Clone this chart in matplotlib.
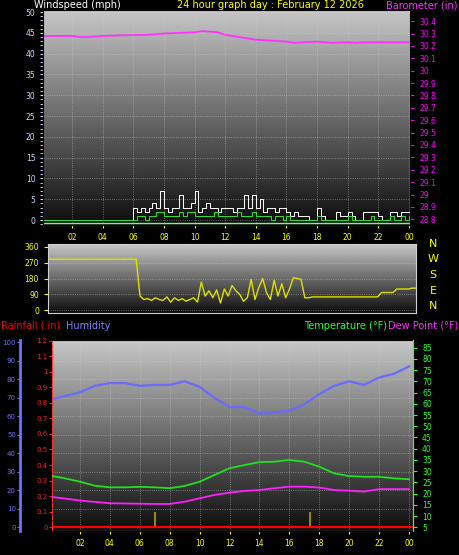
import matplotlib
matplotlib.use("Agg")
import matplotlib.pyplot as plt
import numpy as np
from matplotlib.ticker import MultipleLocator, AutoMinorLocator

W, H = 459, 555

# ---- data ----
hours = np.arange(25)
baro_t = [0, 2, 2.7, 4, 5, 7, 8, 10, 10.5, 11.5, 12, 13.5, 14, 16, 16.5, 18, 19, 20, 20.5, 21, 24]
baro = [30.28, 30.28, 30.27, 30.28, 30.285, 30.29, 30.30, 30.31, 30.32, 30.31, 30.29,
        30.26, 30.25, 30.235, 30.225, 30.235, 30.225, 30.23, 30.225, 30.23, 30.23]

gust = [0]*24 + [3, 2, 3, 2, 3, 4, 3, 7, 3, 2, 3, 3, 6, 3, 3, 4, 7, 2, 3, 4, 3, 3, 2, 3,
        3, 3, 2, 3, 3, 6, 3, 6, 3, 5, 2, 3, 3, 2, 3, 3, 2, 1, 2, 1, 1, 1, 0, 0, 3, 1,
        0, 0, 0, 2, 1, 1, 2, 1, 0, 0, 2, 2, 2, 2, 1, 0, 0, 2, 2, 1, 2, 2, 2]
avg = [0]*24 + [0, 1, 1, 0, 1, 1, 2, 2, 1, 1, 1, 1, 2, 1, 2, 2, 1, 1, 1, 1, 1, 2, 1, 1,
       1, 1, 1, 2, 1, 1, 1, 2, 1, 1, 1, 1, 0, 1, 1, 0, 1, 0, 0, 0, 0, 0, 0, 0, 1, 0,
       0, 0, 0, 0, 0, 0, 1, 0, 0, 0, 0, 0, 1, 0, 0, 0, 0, 1, 0, 0, 1, 0, 1]
wind_t = np.linspace(0, 24, len(gust))

direction = [290]*24 + [80, 60, 65, 55, 70, 60, 55, 75, 45, 70, 55, 65, 50, 60, 70, 45,
             160, 80, 110, 70, 115, 40, 120, 80, 140, 110, 90, 50, 70, 175, 60, 130,
             180, 100, 60, 170, 80, 150, 70, 120, 185, 180, 175, 70, 70, 75, 75, 75,
             75, 75, 75, 75, 75, 75, 75, 75, 75, 75, 75, 75, 75, 75, 75, 100, 100,
             100, 100, 120, 120, 120, 120, 125, 125]
dir_t = np.linspace(0, 24, len(direction))

humidity = [69, 71, 73, 76.5, 78, 78, 76.5, 77, 77, 79, 76, 70, 65, 65, 61.5, 62, 63,
            66.5, 72, 76.5, 79, 77, 81, 83, 87]
temperature = [28, 26.8, 25.3, 23.5, 22.8, 22.8, 23, 22.8, 22.4, 23.4, 25.3, 28.3, 31.3,
               32.7, 34, 34.2, 35, 34.2, 32, 29, 27.8, 27.5, 27.5, 26.8, 26.4]
dewpoint = [18.6, 17.8, 16.9, 16.3, 15.7, 15.6, 15.5, 15.4, 15.4, 16.4, 17.9, 19.4, 20.4,
            21.2, 21.6, 22.4, 23.1, 23.1, 22.7, 21.6, 21.3, 20.9, 22, 22, 22]
rain_t = [7.0, 17.4]
rain = [0.1, 0.1]

xtick_pos = list(range(2, 25, 2))
xtick_lab = ['02', '04', '06', '08', '10', '12', '14', '16', '18', '20', '22', '00']

fig = plt.figure(figsize=(W/100, H/100), dpi=100, facecolor='black')
plt.rcParams['font.family'] = 'DejaVu Sans'
fs = 5.5
tfs = 7.0


def box(l, r, t, b):
    return [l/W, 1 - b/H, (r-l)/W, (b-t)/H]


def style(ax):
    ax.set_facecolor('black')
    grad = np.linspace(0.78, 0.05, 256).reshape(-1, 1)
    ax.imshow(grad, cmap='gray', vmin=0, vmax=1, aspect='auto', extent=[0, 1, 0, 1],
              transform=ax.transAxes, zorder=0)
    ax.grid(True, color='#d0d0d0', linestyle=':', linewidth=0.6, alpha=0.6)
    for s in ax.spines.values():
        s.set_color('#d0d0d0')
    ax.set_xticks(xtick_pos)
    ax.set_xticklabels(xtick_lab)
    ax.tick_params(axis='x', colors='yellow', labelsize=fs, length=2, labelcolor='yellow')


# ---- panel 1: wind / barometer ----
ax1 = fig.add_axes(box(43, 410, 10, 225))
style(ax1)
ax1.set_xlim(0.1, 24.07)
ax1.set_ylim(-1.2, 50.5)
ax1.yaxis.set_major_locator(MultipleLocator(5))
ax1.yaxis.set_minor_locator(AutoMinorLocator(5))
ax1.tick_params(axis='y', which='both', colors='#c8dcff', labelsize=fs, length=2)
ax1.step(wind_t, gust, where='post', color='white', lw=0.7, zorder=3)
ax1.step(wind_t, avg, where='post', color='#30e030', lw=0.7, zorder=4)
ax1.axhline(-0.8, color='#70ff70', lw=1, zorder=4)
ax1b = ax1.twinx()
ax1b.set_ylim(28.754, 30.49)
ax1b.yaxis.set_major_locator(MultipleLocator(0.1))
ax1b.yaxis.set_major_formatter(lambda v, p: f'{v:g}')
ax1b.tick_params(axis='y', colors='#ff00ff', labelsize=fs, length=3)
ax1b.plot(baro_t, baro, color='#ff30ff', lw=1.3)
fig.text(34/W, 1 - 5/H, 'Windspeed (mph)', color='white', fontsize=tfs, va='center')
fig.text(270/W, 1 - 5/H, '24 hour graph day : February 12 2026', color='yellow',
         fontsize=tfs, va='center', ha='center')
fig.text(458/W, 1 - 5/H, 'Barometer (in)', color='#ff30ff', fontsize=tfs,
         va='center', ha='right')

# ---- panel 2: wind direction ----
ax2 = fig.add_axes(box(48, 416, 244, 313))
style(ax2)
ax2.set_xlim(0, 24)
ax2.set_ylim(-17, 377)
ax2.set_xticks([])
ax2.set_yticks([0, 90, 180, 270, 360])
ax2.grid(True, axis='y', color='#d0d0d0', linestyle=':', linewidth=0.6, alpha=0.6)
ax2.tick_params(axis='y', colors='yellow', labelsize=fs, length=3)
ax2.plot(dir_t, direction, color='#e0e000', lw=1)
for i, lab in enumerate(['N', 'W', 'S', 'E', 'N']):
    fig.text(433/W, 1 - (244 + i*15.5)/H, lab, color='yellow', fontsize=8,
             ha='center', va='center')

# ---- panel 3: humidity / rain / temperature ----
fig.text(1/W, 1 - 326/H, 'Rainfall (.in)', color='red', fontsize=tfs, va='center')
fig.text(66/W, 1 - 326/H, 'Humidity', color='#8080ff', fontsize=tfs, va='center')
fig.text(387/W, 1 - 326/H, 'Temperature (°F)', color='#30ff30', fontsize=tfs,
         va='center', ha='right')
fig.text(458/W, 1 - 326/H, 'Dew Point (°F)', color='#ff30ff', fontsize=tfs,
         va='center', ha='right')
ax3 = fig.add_axes(box(52, 413, 340, 531))
style(ax3)
ax3.set_xlim(0.13, 24.27)
ax3.set_ylim(-2, 101.3)
ax3.yaxis.set_major_locator(MultipleLocator(10))
ax3.spines['left'].set_position(('outward', 23))
ax3.spines['left'].set_color('#7070ff')
ax3.spines['left'].set_linewidth(2)
ax3.tick_params(axis='y', colors='#7070ff', labelsize=5, length=2, pad=1)
ax3.plot(hours, humidity, color='#6a6aff', lw=1.6, zorder=3)

ax3r = ax3.twinx()
ax3r.set_ylim(-0.024, 1.204)
ax3r.yaxis.set_ticks_position('left')
ax3r.spines['left'].set_visible(True)
ax3r.spines['left'].set_color('#ff3030')
ax3r.spines['left'].set_linestyle('--')
ax3r.spines['right'].set_visible(False)
ax3r.yaxis.set_major_locator(MultipleLocator(0.1))
ax3r.yaxis.set_major_formatter(lambda v, p: f'{v:g}')
ax3r.tick_params(axis='y', colors='#ff2020', labelsize=5, length=2, pad=1)
ax3r.vlines(rain_t, 0, rain, color='#b0a000', lw=1.2)
ax3r.axhline(0, color='red', lw=1.6)

ax3t = fig.add_axes(box(52, 413, 340, 531), sharex=ax3)
ax3t.patch.set_visible(False)
ax3t.yaxis.tick_right()
ax3t.set_ylim(3.35, 88.4)
ax3t.yaxis.set_major_locator(MultipleLocator(5))
ax3t.tick_params(axis='y', colors='#30ff30', labelsize=fs, length=3)
ax3t.tick_params(axis='x', bottom=False, labelbottom=False)
for s in ax3t.spines.values():
    s.set_visible(False)
ax3t.spines['right'].set_visible(True)
ax3t.spines['right'].set_color('#30ff30')
ax3t.plot(hours, temperature, color='#20e020', lw=1.3)
ax3t.plot(hours, dewpoint, color='#ff20ff', lw=1.3)

fig.savefig('out.png', dpi=100, facecolor='black')
